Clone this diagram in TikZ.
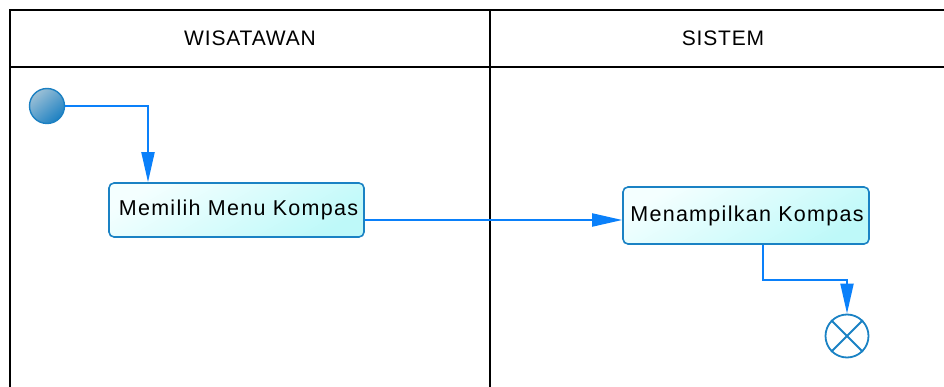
\documentclass[tikz,border=0pt]{standalone}
\usepackage{fontspec}
\setmainfont{Liberation Sans}
\usetikzlibrary{arrows.meta}
\definecolor{flowblue}{HTML}{0A80FA}
\definecolor{boxblue}{HTML}{1A82C4}
\definecolor{boxlight}{HTML}{F4FFFF}
\definecolor{boxcyan}{HTML}{BEF9F9}
\definecolor{startlight}{HTML}{9CC0D6}
\definecolor{startdark}{HTML}{1C80C2}
\begin{document}
\begin{tikzpicture}[x=1pt,y=-1pt,
  frameline/.style={draw=black,line width=2.6pt},
  lanehead/.style={font=\fontsize{21}{25}\selectfont\addfontfeature{LetterSpace=4}},
  actbox/.style={draw=boxblue,line width=1.6pt,rounded corners=5pt,
    top color=boxlight,bottom color=boxcyan,shading angle=30,
    font=\fontsize{21.5}{25}\selectfont\addfontfeature{LetterSpace=6},inner sep=0pt},
  startnode/.style={circle,draw=startdark,line width=1.4pt,minimum size=35pt,inner sep=0pt,
    top color=startlight,bottom color=startdark,shading angle=40},
  endnode/.style={circle,draw=boxblue,line width=1.8pt,minimum size=43pt,inner sep=0pt,fill=white},
  flow/.style={draw=flowblue,line width=2pt,-{Triangle[length=30pt,width=13pt]}}]
\useasboundingbox (0,0) rectangle (944,387);
\clip (0,0) rectangle (944,387);
\fill[white] (0,0) rectangle (944,387);
% swimlanes
\draw[frameline] (10,500) -- (10,10) -- (960,10);
\draw[frameline] (10,67) -- (960,67);
\draw[frameline] (490,10) -- (490,500);
\node[lanehead] (h1) at (250,38) {WISATAWAN};
\node[lanehead] (h2) at (723,38) {SISTEM};
% nodes
\node[startnode] (s) at (47,106) {};
\node[actbox,minimum width=255pt,minimum height=54pt] (b1) at (236.5,210) {\hspace*{4pt}Memilih Menu Kompas};
\node[actbox,minimum width=246pt,minimum height=57pt] (b2) at (746,215.5) {\hspace*{2pt}Menampilkan Kompas};
\node[endnode] (e) at (847,336) {};
\draw[boxblue,line width=1.8pt] (e.north west) -- (e.south east) (e.north east) -- (e.south west);
% flows
\draw[flow] (s.east) -| ([xshift=-88.5pt]b1.north);
\draw[flow] ([yshift=-10pt]b1.east) -- ([yshift=-4.5pt]b2.west);
\draw[flow] ([xshift=17pt]b2.south) -- ++(0,35) -| (e.north);
\end{tikzpicture}
\end{document}
